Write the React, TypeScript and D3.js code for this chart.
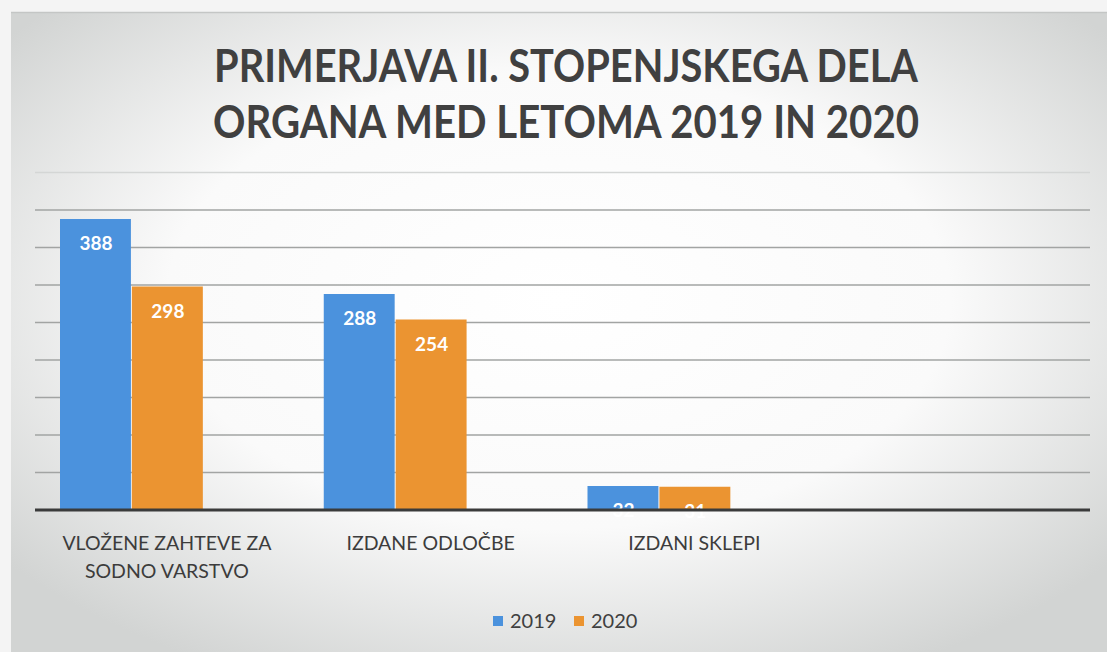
import React, { useEffect, useRef } from "react";
import * as d3 from "d3";

const categories = ["VLOŽENE ZAHTEVE ZA\nSODNO VARSTVO", "IZDANE ODLOČBE", "IZDANI SKLEPI"];
const seriesNames = ["2019", "2020"];
const values2019 = [388, 288, 32];
const values2020 = [298, 254, 31];
const yTicks = [0, 50, 100, 150, 200, 250, 300, 350, 400, 450];
const titleLines = ["PRIMERJAVA II. STOPENJSKEGA DELA", "ORGANA MED LETOMA 2019 IN 2020"];

const W = 1107;
const H = 652;
const colors = ["#4b92dd", "#eb9431"];

const App = () => {
  const ref = useRef<SVGSVGElement | null>(null);

  useEffect(() => {
    const svg = d3.select(ref.current);
    svg.selectAll("*").remove();

    const left = 35;
    const right = 1090;
    const baseline = 510;
    const bandW = (right - left) / 4;

    // scanned paper background
    const defs = svg.append("defs");
    const grad = defs
      .append("radialGradient")
      .attr("id", "paper")
      .attr("cx", "50%")
      .attr("cy", "45%")
      .attr("r", "65%");
    grad.append("stop").attr("offset", "0%").attr("stop-color", "#ffffff");
    grad.append("stop").attr("offset", "55%").attr("stop-color", "#fafafa");
    grad.append("stop").attr("offset", "100%").attr("stop-color", "#d2d4d3");

    svg.append("rect").attr("width", W).attr("height", H).attr("fill", "#f4f4f4");
    svg
      .append("rect")
      .attr("x", 11)
      .attr("y", 12)
      .attr("width", W - 11)
      .attr("height", H - 12)
      .attr("fill", "url(#paper)");
    svg
      .append("line")
      .attr("x1", 11)
      .attr("x2", W)
      .attr("y1", 12.5)
      .attr("y2", 12.5)
      .attr("stroke", "#c4c6c5")
      .attr("stroke-width", 1.5);

    const y = d3
      .scaleLinear()
      .domain([0, 450])
      .range([baseline, baseline - 450 * 0.75]);

    const x = d3
      .scaleBand()
      .domain(categories)
      .range([left, left + bandW * 3])
      .paddingInner(0)
      .paddingOuter(0);

    // three slots per group, the last one is empty
    const xSub = d3
      .scaleBand<number>()
      .domain([0, 1, 2])
      .range([25, x.bandwidth() - 23])
      .padding(0);

    // gridlines
    svg
      .append("g")
      .selectAll("line")
      .data(yTicks.filter((t) => t > 0))
      .enter()
      .append("line")
      .attr("x1", left)
      .attr("x2", right)
      .attr("y1", (d) => y(d))
      .attr("y2", (d) => y(d))
      .attr("stroke", (d) => (d === 450 ? "#d4d6d5" : "#a2a4a3"))
      .attr("stroke-width", 1.6);

    const series = [values2019, values2020];

    const groups = svg
      .append("g")
      .selectAll("g")
      .data(categories)
      .enter()
      .append("g")
      .attr("transform", (d) => `translate(${x(d)},0)`);

    series.forEach((vals, si) => {
      groups
        .append("rect")
        .attr("x", xSub(si)!)
        .attr("y", (d, i) => y(vals[i]))
        .attr("width", xSub.bandwidth() - 1)
        .attr("height", (d, i) => baseline - y(vals[i]))
        .attr("fill", colors[si]);

      groups
        .append("text")
        .attr("x", xSub(si)! + xSub.bandwidth() / 2)
        .attr("y", (d, i) => y(vals[i]) + 31)
        .attr("text-anchor", "middle")
        .attr("fill", "#ffffff")
        .style("font-family", "Lato, 'Open Sans', sans-serif")
        .style("font-weight", "bold")
        .style("font-size", "19px")
        .text((d, i) => vals[i]);
    });

    // axis line
    svg
      .append("line")
      .attr("x1", left)
      .attr("x2", right)
      .attr("y1", baseline)
      .attr("y2", baseline)
      .attr("stroke", "#3a3b3b")
      .attr("stroke-width", 3);

    // category labels
    groups
      .append("text")
      .attr("x", x.bandwidth() / 2)
      .attr("y", 550)
      .attr("text-anchor", "middle")
      .attr("fill", "#3c3c3c")
      .style("font-family", "Lato, 'Open Sans', sans-serif")
      .style("font-size", "19.5px")
      .each(function (d) {
        const lines = d.split("\n");
        d3.select(this)
          .selectAll("tspan")
          .data(lines)
          .enter()
          .append("tspan")
          .attr("x", x.bandwidth() / 2)
          .attr("dy", (l, i) => (i === 0 ? 0 : 28))
          .text((l) => l);
      });

    // title
    svg
      .append("g")
      .selectAll("text")
      .data(titleLines)
      .enter()
      .append("text")
      .attr("x", 566)
      .attr("y", (d, i) => 82 + i * 56)
      .attr("text-anchor", "middle")
      .attr("fill", "#404040")
      .attr("textLength", (d, i) => (i === 0 ? 704 : 706))
      .attr("lengthAdjust", "spacingAndGlyphs")
      .style("font-family", "Lato, 'Open Sans', sans-serif")
      .style("font-weight", "bold")
      .style("font-size", "46px")
      .text((d) => d);

    // legend
    const legendX = [493, 574];
    const legend = svg
      .append("g")
      .selectAll("g")
      .data(seriesNames)
      .enter()
      .append("g")
      .attr("transform", (d, i) => `translate(${legendX[i]},621)`);
    legend
      .append("rect")
      .attr("x", 0)
      .attr("y", -5)
      .attr("width", 10)
      .attr("height", 10)
      .attr("fill", (d, i) => colors[i]);
    legend
      .append("text")
      .attr("x", 17)
      .attr("y", 7)
      .attr("fill", "#404040")
      .style("font-family", "Lato, 'Open Sans', sans-serif")
      .style("font-size", "20px")
      .text((d) => d);
  }, []);

  return (
    <svg
      ref={ref}
      width={W}
      height={H}
      style={{ position: "absolute", left: 0, top: 0, display: "block" }}
    />
  );
};

export default App;
